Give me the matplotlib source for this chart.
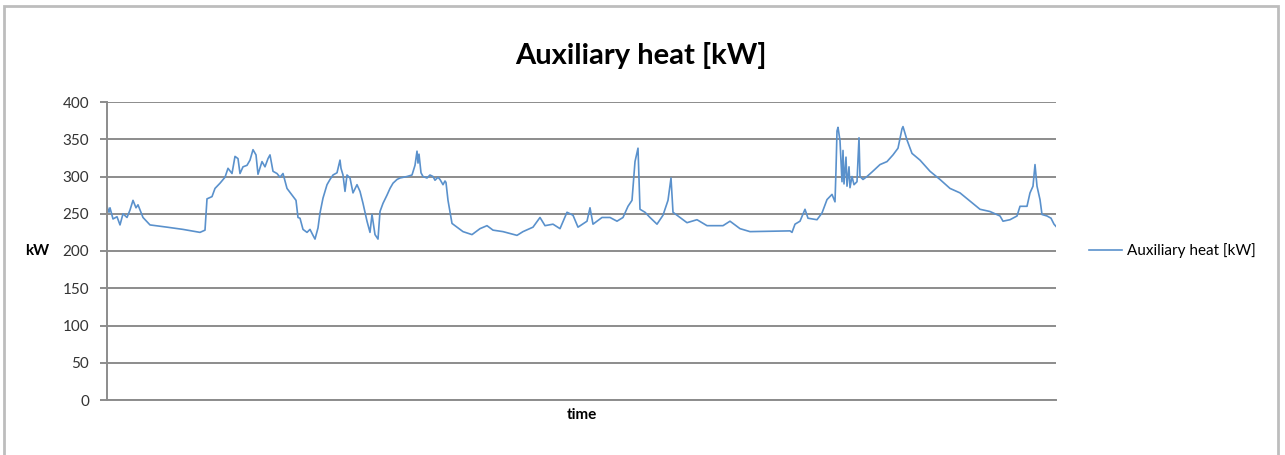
import matplotlib.pyplot as plt
from matplotlib.patches import Rectangle

# time step index and auxiliary heat readings (kW)
time = [0, 2, 3, 6, 10, 13, 16, 20, 23, 26, 29, 31, 36, 43, 60, 76, 93, 98,
        100, 105, 108, 113, 118, 121, 125, 128, 131, 133, 136, 140, 143, 146,
        149, 151, 155, 158, 161, 163, 166, 170, 173, 176, 180, 185, 189, 191,
        193, 196, 200, 203, 206, 208, 211, 213, 216, 220, 223, 226, 230, 233,
        234, 236, 238, 240, 243, 246, 250, 253, 256, 260, 263, 265, 268, 271,
        273, 276, 280, 283, 286, 290, 293, 300,
        305, 308, 310, 311, 312, 314, 316, 320, 323, 326, 328, 331, 333, 336,
        338, 339, 341, 345,
        350, 356, 365, 373, 380, 386, 396, 410, 416, 426, 433, 438, 446, 453,
        460, 466, 471, 480, 483, 486, 495, 503, 510, 516, 521, 525, 528, 531,
        533, 538, 543, 550, 556, 561, 564, 566, 573, 580, 590, 600, 616, 623,
        633, 643, 683,
        685, 688, 693, 698, 701, 710, 715, 720, 725, 728, 729, 730, 731, 733,
        735, 736, 737, 739, 740, 742, 743, 745, 747, 750, 752, 753, 756, 760,
        765, 773, 780, 786, 791, 795, 796, 800, 805, 813, 823, 833, 843, 853,
        863, 873, 883, 893, 896, 903, 910, 913, 920, 923, 926, 928, 930, 933,
        935, 940, 944, 947, 949]
aux_heat = [260, 252, 258, 243, 246, 235, 250, 245, 255, 268, 258, 262, 245,
            235, 232, 229, 225, 228,
            270, 273, 284, 291, 299, 311, 304, 327, 324, 304, 313, 315, 322,
            336, 329, 303, 320, 313, 324, 329, 307, 304, 299, 304, 284, 275,
            268, 245,
            244, 229, 225, 229, 221, 216, 231, 251, 271, 289, 296, 302, 305,
            322, 311, 302, 280, 302, 298, 278, 289, 280, 264, 240, 225, 249,
            222, 216, 253, 264, 275, 284, 291, 296, 298, 300,
            302, 315, 334, 318, 330, 305, 300, 298, 302, 300, 295, 299, 296,
            289, 294, 292, 268, 237,
            232, 226, 222, 230, 234, 228, 226, 221, 226, 232, 245, 234, 236,
            230, 252, 248, 232, 240, 258, 236, 245, 245, 240, 245, 260, 268,
            320, 338, 256, 252, 245, 236, 248, 268, 298, 252, 245, 238, 242,
            234, 234, 240, 230, 226, 227,
            225, 236, 240, 256, 244, 242, 251, 269, 276, 266, 309, 361, 366,
            348, 293, 335, 290, 326, 287, 313, 285, 300, 289, 293, 352, 300,
            296, 300, 306, 316, 320, 329, 338, 364, 367, 349, 331, 322, 307,
            296, 284, 278, 267, 256, 253, 247, 240, 242, 247, 260, 260, 278,
            287, 316, 287, 269, 249, 247, 244, 236, 233]

yticks = [0, 50, 100, 150, 200, 250, 300, 350, 400]
blue = '#5A91CC'
grid = '#8C8C8C'

plt.rcParams['font.family'] = ['Lato', 'DejaVu Sans']

fig = plt.figure(figsize=(12.85, 4.55), dpi=100)
ax = fig.add_axes([107 / 1285, 55 / 455, 949 / 1285, 298 / 455])

ax.plot(time, aux_heat, color=blue, linewidth=1.2, label='Auxiliary heat [kW]')

ax.set_xlim(0, 949)
ax.set_ylim(0, 400)
ax.set_yticks(yticks)
ax.set_xticks([])
ax.yaxis.grid(True, color=grid, linewidth=1.4)
ax.set_axisbelow(True)
for side in ['top', 'right']:
    ax.spines[side].set_visible(False)
for side in ['left', 'bottom']:
    ax.spines[side].set_color(grid)
    ax.spines[side].set_linewidth(1.4)
ax.tick_params(axis='y', length=5, width=1.4, color=grid, labelsize=11,
               labelcolor='#333333', pad=8)

ax.set_ylabel('kW', rotation=0, fontsize=11, fontweight='bold', labelpad=18,
              va='center')
ax.set_xlabel('time', fontsize=11, fontweight='bold', labelpad=6)
fig.text(0.499, 0.879, 'Auxiliary heat [kW]', ha='center', va='center',
         fontsize=21, fontweight='bold')

ax.legend(loc='center left', bbox_to_anchor=(1.02, 0.5), frameon=False,
          fontsize=11, handlelength=2.2, handletextpad=0.3)

fig.patches.append(Rectangle((4 / 1285, -0.1), 1274 / 1285, 1.087,
                             transform=fig.transFigure, fill=False,
                             edgecolor='#BDBDBD', linewidth=2))

fig.savefig('out.png', dpi=100)
